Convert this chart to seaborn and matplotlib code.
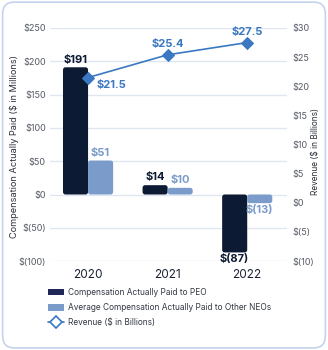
import matplotlib
matplotlib.use("Agg")
import matplotlib.pyplot as plt
import seaborn as sns
import pandas as pd
from matplotlib.patches import FancyBboxPatch, Patch
from matplotlib.lines import Line2D

years = ["2020", "2021", "2022"]
peo_cap = [191, 14, -87]
neo_cap = [51, 10, -13]
revenue = [21.5, 25.4, 27.5]
peo_labels = ["$191", "$14", "$(87)"]
neo_labels = ["$51", "$10", "$(13)"]
rev_labels = ["$21.5", "$25.4", "$27.5"]
left_ticks = [-100, -50, 0, 50, 100, 150, 200, 250]
left_ticklabels = ["$(100)", "$(50)", "$0", "$50", "$100", "$150", "$200", "$250"]
right_ticks = [-10, -5, 0, 5, 10, 15, 20, 25, 30]
right_ticklabels = ["$(10)", "$(5)", "$0", "$5", "$10", "$15", "$20", "$25", "$30"]
series = ["Compensation Actually Paid to PEO", "Average Compensation Actually Paid to Other NEOs"]
rev_name = "Revenue ($ in Billions)"

DARK = "#0c1a33"
LIGHT = "#7b9bcb"
LINE = "#3b78c2"
GRID = "#dfe6f1"
TICK = "#555a66"

sns.set_theme(style="white")
plt.rcParams["font.family"] = ["Inter", "DejaVu Sans"]

df = pd.DataFrame({
    "year": years * 2,
    "value": peo_cap + neo_cap,
    "series": [series[0]] * 3 + [series[1]] * 3,
})
rdf = pd.DataFrame({"year": years, "rev": revenue})

fig = plt.figure(figsize=(3.28, 3.5), dpi=100)
ax = fig.add_axes([0.152, 0.254, 0.723, 0.666])

sns.barplot(data=df, x="year", y="value", hue="series", palette=[DARK, LIGHT],
            width=0.63, ax=ax, legend=False, saturation=1)

ax.set_xlim(-0.48, 2.5)
ax.set_ylim(-100, 250)
ax.set_yticks(left_ticks)
ax.set_yticklabels(left_ticklabels)
ax.yaxis.grid(True, color=GRID, lw=1)
ax.set_axisbelow(True)
for s in ax.spines.values():
    s.set_visible(False)
ax.tick_params(axis="y", colors=TICK, labelsize=6.5, length=0, pad=3)
ax.tick_params(axis="x", colors="#1b2233", labelsize=8.5, length=0, pad=6)
ax.set_xlabel("")
ax.set_ylabel("Compensation Actually Paid ($ in Millions)", fontsize=6.6, color="#2a2f3a")
ax.yaxis.set_label_coords(-0.13, 0.49)

# rounded bars
fig.canvas.draw()
bbox = ax.get_window_extent()
xppu = bbox.width / (2.5 + 0.48)
yppu = bbox.height / 350.0
r = 2.5
patches = list(ax.patches)
for p in patches:
    x, y = p.get_x(), p.get_y()
    w, h = p.get_width(), p.get_height()
    if h < 0:
        y, h = y + h, -h
    rs = min(r, w * xppu / 2, h * yppu / 2) / xppu
    fb = FancyBboxPatch((x, y), w, h,
                        boxstyle=f"round,pad=0,rounding_size={rs}",
                        mutation_aspect=xppu / yppu,
                        facecolor=p.get_facecolor(), edgecolor="none", zorder=2)
    p.remove()
    ax.add_patch(fb)

# bar labels
bw = 0.63 / 2
for i in range(3):
    for vals, labs, col, xpos in ((peo_cap, peo_labels, DARK, i - bw / 2),
                                  (neo_cap, neo_labels, LIGHT, i + bw / 2)):
        v = vals[i]
        if v >= 0:
            ax.annotate(labs[i], (xpos, v), xytext=(0, 2), textcoords="offset points",
                        ha="center", va="bottom", fontsize=8, fontweight="bold", color=col)
        else:
            ax.annotate(labs[i], (xpos, v), xytext=(0, -1), textcoords="offset points",
                        ha="center", va="top", fontsize=8, fontweight="bold", color=col)

# revenue line
ax2 = ax.twinx()
sns.lineplot(data=rdf, x="year", y="rev", ax=ax2, color=LINE, lw=1.2, marker="D",
             markersize=6, markeredgecolor=LINE, markerfacecolor=LINE, zorder=5)
ax2.set_ylim(-10, 30)
ax2.set_yticks(right_ticks)
ax2.set_yticklabels(right_ticklabels)
for s in ax2.spines.values():
    s.set_visible(False)
ax2.tick_params(axis="y", colors=TICK, labelsize=6.5, length=0, pad=4)
ax2.set_ylabel(rev_name, fontsize=6.0, color="#2a2f3a", rotation=90)
ax2.yaxis.set_label_coords(1.103, 0.47)
ax2.set_xlabel("")
ax2.grid(False)
ax2.set_xlim(-0.48, 2.5)

ax2.annotate(rev_labels[0], (0, revenue[0]), xytext=(6, -2), textcoords="offset points",
             ha="left", va="top", fontsize=8, fontweight="bold", color=LINE)
for i in (1, 2):
    ax2.annotate(rev_labels[i], (i, revenue[i]), xytext=(0, 4), textcoords="offset points",
                 ha="center", va="bottom", fontsize=8, fontweight="bold", color=LINE)

# legend
handles = [
    Patch(facecolor="#1f2757", edgecolor="none"),
    Patch(facecolor=LIGHT, edgecolor="none"),
    Line2D([], [], color=LINE, lw=1.2, marker="D", markersize=6,
           markerfacecolor="white", markeredgecolor=LINE, markeredgewidth=1.2),
]
fig.legend(handles, series + [rev_name], loc="upper left", bbox_to_anchor=(0.135, 0.187),
           frameon=False, fontsize=6.0, labelcolor="#333844", handlelength=2.0,
           handleheight=0.9, handletextpad=0.5, labelspacing=0.75, borderaxespad=0)

# border
border = FancyBboxPatch((0.008, 0.006), 0.984, 0.988, boxstyle="round,pad=0,rounding_size=0.035",
                        transform=fig.transFigure, facecolor="none", edgecolor="#c5d3ec", lw=1.2)
fig.patches.append(border)

fig.savefig("out.png", dpi=100)
